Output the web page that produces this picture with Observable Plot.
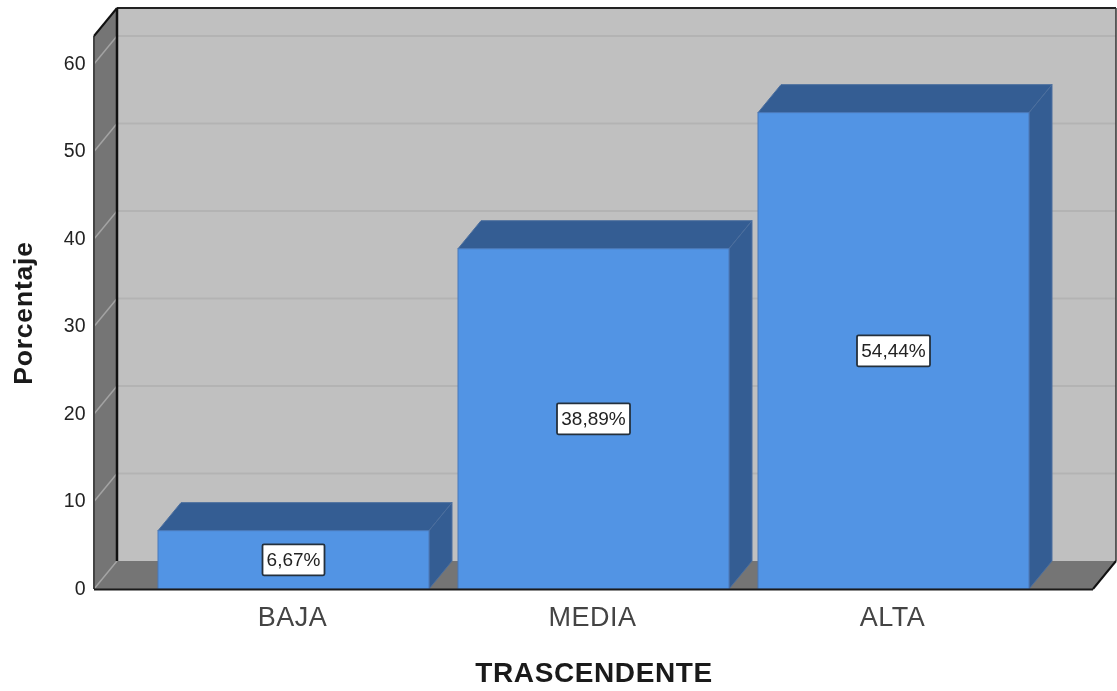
<!DOCTYPE html>
<html>
<head>
<meta charset="utf-8">
<script src="https://cdn.jsdelivr.net/npm/d3@7"></script>
<script src="https://cdn.jsdelivr.net/npm/@observablehq/plot@0.6"></script>
<style>
html,body{margin:0;padding:0;background:#fff}
svg{display:block;filter:blur(0.55px)}
.x-title text{letter-spacing:0.6px}
.y-title text{letter-spacing:0.8px}
.x-ticks text{letter-spacing:0.5px}
</style>
</head>
<body>
<div id="chart"></div>
<script>
const categories = ["BAJA", "MEDIA", "ALTA"];
const percentages = [6.67, 38.89, 54.44];
const labels = ["6,67%", "38,89%", "54,44%"];
const yTicks = [0, 10, 20, 30, 40, 50, 60];
const xAxisTitle = "TRASCENDENTE";
const yAxisTitle = "Porcentaje";
const rows = categories.map((c, i) => ({c, v: percentages[i], l: labels[i]}));

const DX = 23, DY = -28;
const FONT = '"Liberation Sans", Arial, sans-serif';
const poly = (g, pts, fill, stroke, sw) =>
  g.append("polygon").attr("points", pts.map(p => p.join(",")).join(" "))
    .attr("fill", fill).attr("stroke", stroke || "none").attr("stroke-width", sw || 0).attr("stroke-linejoin", "round");
const line = (g, a, b, stroke, sw) =>
  g.append("line").attr("x1", a[0]).attr("y1", a[1]).attr("x2", b[0]).attr("y2", b[1])
    .attr("stroke", stroke).attr("stroke-width", sw);

// Chart box: back wall, left wall and floor
function walls(index, {y}, values, {width, height, marginLeft, marginRight}) {
  const g = d3.create("svg:g");
  const L = marginLeft, R = width - marginRight, B = y(0), T = y.range()[1];
  poly(g, [[L + DX, T + DY], [R + DX, T + DY], [R + DX, B + DY], [L + DX, B + DY]], "#c0c0c0");
  poly(g, [[L, T], [L + DX, T + DY], [L + DX, B + DY], [L, B]], "#757575");
  poly(g, [[L, B], [L + DX, B + DY], [R + DX, B + DY], [R, B]], "#757575");
  for (const t of yTicks.slice(1)) {
    line(g, [L + DX, y(t) + DY], [R + DX, y(t) + DY], "#b3b3b3", 2);
  }
  for (const t of yTicks) {
    line(g, [L, y(t)], [L + DX, y(t) + DY], "#a3a3a3", 1.5);
  }
  return g.node();
}
// Lines of the box drawn after the grid
function frame(index, {y}, values, {width, height, marginLeft, marginRight}) {
  const g = d3.create("svg:g");
  const L = marginLeft, R = width - marginRight, B = y(0), T = y.range()[1];
  line(g, [L, T], [L, B], "#444", 2);
  line(g, [L, T], [L + DX, T + DY], "#111", 2);
  line(g, [L + DX, T + DY], [R + DX, T + DY], "#222", 2);
  line(g, [L + DX, T + DY], [L + DX, B + DY], "#111", 2.5);
  line(g, [R + DX, T + DY], [R + DX, B + DY], "#333", 1.5);
  line(g, [R, B], [R + DX, B + DY], "#111", 2);
  return g.node();
}
// Top and side faces of the bars
function barFaces(index, {x, y}) {
  const g = d3.create("svg:g");
  const w = x.bandwidth();
  for (const r of rows) {
    const x0 = x(r.c), x1 = x0 + w, yt = y(r.v), yb = y(0);
    poly(g, [[x0, yt], [x0 + DX, yt + DY], [x1 + DX, yt + DY], [x1, yt]], "#345d93", "#4c6f9e", 1);
    poly(g, [[x1, yt], [x1 + DX, yt + DY], [x1 + DX, yb + DY], [x1, yb]], "#345d93", "#4c6f9e", 1);
  }
  return g.node();
}
// White boxes behind the value labels
function labelBoxes(index, {x, y}) {
  const g = d3.create("svg:g");
  const w = x.bandwidth();
  for (const r of rows) {
    const bw = r.l.length * 11 + 7, bh = 31;
    g.append("rect").attr("x", x(r.c) + w / 2 - bw / 2).attr("y", y(r.v / 2) - bh / 2)
      .attr("width", bw).attr("height", bh).attr("rx", 1.5)
      .attr("fill", "#fff").attr("stroke", "#24303c").attr("stroke-width", 1.8);
  }
  return g.node();
}

const chart = Plot.plot({
  width: 1117, height: 691,
  marginLeft: 94, marginRight: 24, marginTop: 36, marginBottom: 102,
  style: {fontFamily: FONT, background: "#fff"},
  x: {domain: categories, paddingInner: 0.097, paddingOuter: 0.2133, align: 0.5},
  y: {domain: [0, 63.2], range: [589, 36]},
  marks: [
    walls,
    frame,
    barFaces,
    Plot.barY(rows, {x: "c", y: "v", fill: "#5294e4", stroke: "#4a78b8", strokeWidth: 1}),
    Plot.ruleY([0], {stroke: "#1a1a1a", strokeWidth: 2}),
    labelBoxes,
    Plot.text(rows, {x: "c", y: d => d.v / 2, text: "l", fontSize: 19, fill: "#222", dx: -0.5}),
    Plot.axisY({ticks: yTicks, tickSize: 0, tickPadding: 9, label: null, fontSize: 19.5, fill: "#222", dy: -1}),
    Plot.axisX({tickSize: 0, tickPadding: 17, label: null, fontSize: 27, dx: -1.5, fill: "#444", className: "x-ticks"}),
    Plot.text([xAxisTitle], {frameAnchor: "bottom", dy: 84, fontSize: 28, fontWeight: "bold", fill: "#1a1a1a", lineAnchor: "middle", className: "x-title"}),
    Plot.text([yAxisTitle], {frameAnchor: "left", dx: -70.5, rotate: -90, textAnchor: "middle", fontSize: 26.5, fontWeight: "bold", fill: "#1a1a1a", lineAnchor: "middle", className: "y-title"})
  ]
});
document.getElementById("chart").appendChild(chart);
</script>
</body>
</html>
